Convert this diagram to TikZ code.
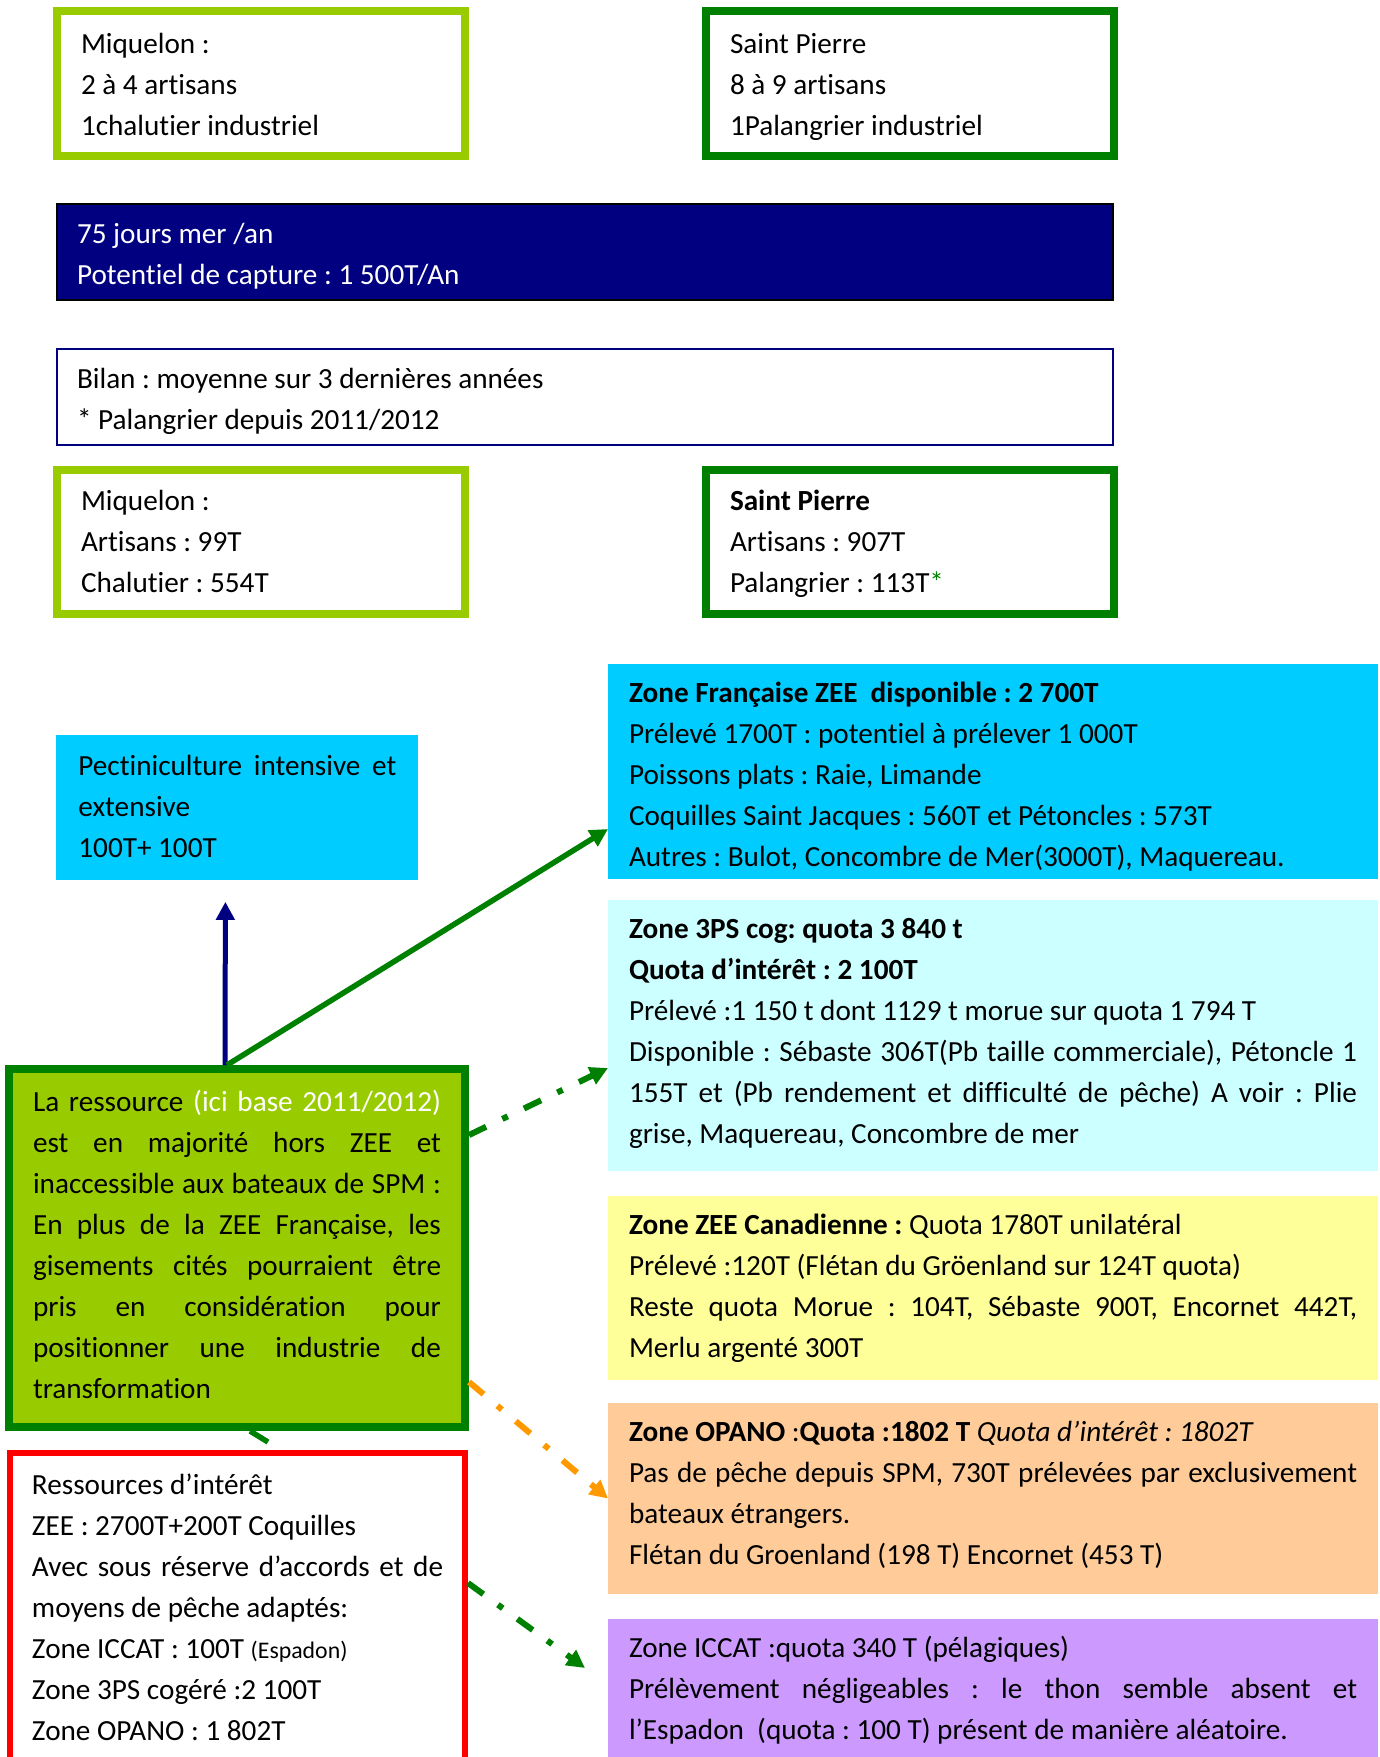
\documentclass[tikz,border=0pt]{standalone}
\usepackage{fontspec}
\setmainfont{Carlito}[Ligatures=NoCommon]
\usepackage{tikz}
\usetikzlibrary{positioning}
\usetikzlibrary{arrows.meta}

\definecolor{vertclair}{HTML}{99CC00}
\definecolor{vertfonce}{HTML}{008000}
\definecolor{marine}{HTML}{000080}
\definecolor{cyanzone}{HTML}{00CCFF}
\definecolor{cyanpale}{HTML}{CCFFFF}
\definecolor{jaunezone}{HTML}{FFFF99}
\definecolor{peche}{HTML}{FFCC99}
\definecolor{lavande}{HTML}{CC99FF}
\definecolor{orangefl}{HTML}{FF9900}
\definecolor{rouge}{HTML}{FF0000}

\newcommand{\corps}{\fontsize{14.6pt}{20.5pt}\selectfont\frenchspacing}
\newcommand{\petit}{\fontsize{11.9pt}{20.5pt}\selectfont}
\hyphenpenalty=10000
\exhyphenpenalty=10000
\tolerance=10000

\tikzset{
    cadre/.style={ % boxes of the two fleets
        draw, line width=4pt, anchor=north west,
        minimum width=204pt, inner xsep=12pt, inner ysep=0pt,
        text width=180pt, text height=21pt, text depth=51.5pt,
        align=justify, font=\corps
    },
    miq/.style={cadre, draw=vertclair},
    stp/.style={cadre, draw=vertfonce},
    bilanbox/.style={text height=20pt, text depth=52pt}, % lower row
    bandeau/.style={ % wide boxes in the middle
        draw, line width=1pt, anchor=north west,
        minimum width=528pt, inner xsep=10pt, inner ysep=0pt,
        text width=508pt, text height=19.5pt, text depth=28.5pt,
        align=justify, font=\corps
    },
    zone/.style={ % the fishing zones on the right
        anchor=north west, outer sep=0pt,
        minimum width=385pt, inner xsep=10.5pt, inner ysep=0pt,
        text width=364pt, text height=19pt, align=justify, font=\corps
    },
    fleche/.style={ % solid arrows
        -{Triangle[length=9pt,width=9pt]}, line width=2.5pt
    },
    pointille/.style={ % dash-dot arrows
        fleche, line width=3pt,
        dash pattern=on 9.5pt off 9pt on 3pt off 9pt
    }
}

\begin{document}
\begin{tikzpicture}[x=0.5pt,y=-0.5pt]
    \useasboundingbox (0,0) rectangle (1380,1757);

    % fleets
    \node[miq] (mqA) at (53,7) {Miquelon :\\2 à 4 artisans\\1chalutier industriel};
    \node[stp, right=116.5pt of mqA] (spA) {Saint Pierre\\8 à 9 artisans\\1Palangrier industriel};

    \node[bandeau, fill=marine, draw=black, text=white] (jours) at (56,203)
        {75 jours mer /an\\Potentiel de capture : 1 500T/An};
    \node[bandeau, draw=marine] (bilan) at (56,348)
        {Bilan : moyenne sur 3 dernières années\\{}* Palangrier depuis 2011/2012};

    \node[miq, bilanbox] (mqB) at (53,466) {Miquelon :\\Artisans : 99T\\Chalutier : 554T};
    \node[stp, bilanbox, right=116.5pt of mqB] (spB)
        {\textbf{Saint Pierre}\\Artisans : 907T\\Palangrier : 113T{\color{vertfonce}*}};

    % left column
    \node[anchor=north west, fill=cyanzone, minimum width=181pt, inner xsep=11pt, inner ysep=0pt,
          text width=159pt, text height=20pt, text depth=52.5pt, align=justify, font=\corps]
        (pect) at (56,735) {Pectiniculture intensive et\linebreak extensive\\100T+ 100T};

    \node[anchor=north west, draw=vertfonce, line width=4pt, fill=vertclair,
          minimum width=228pt, inner xsep=12pt, inner ysep=0pt,
          text width=204pt, text height=21pt, text depth=158pt,
          align=justify, font=\corps] (res) at (5,1065)
        {La ressource {\color{white}(ici base 2011/2012)}\linebreak
         est en majorité hors ZEE et\linebreak
         inaccessible aux bateaux de SPM :\linebreak
         En plus de la ZEE Française, les\linebreak
         gisements cités pourraient être\linebreak
         pris en considération pour\linebreak
         positionner une industrie de\linebreak
         transformation};

    \node[anchor=north west, draw=rouge, line width=3pt, fill=white,
          minimum width=227.5pt, inner xsep=11pt, inner ysep=0pt,
          text width=205.5pt, text height=20.5pt, text depth=133.5pt,
          align=justify, font=\corps] (interet) at (7,1450)
        {Ressources d’intérêt\\
         ZEE : 2700T+200T Coquilles\\
         Avec sous réserve d’accords et de\linebreak
         moyens de pêche adaptés:\\
         Zone ICCAT : 100T {\petit (Espadon)}\\
         Zone 3PS cogéré :2 100T\\
         Zone OPANO : 1 802T};

    % zones
    \node[zone, fill=cyanzone, text depth=88.5pt] (fr) at (608,664)
        {\textbf{Zone Française ZEE\ \ disponible : 2 700T}\\
         Prélevé 1700T : potentiel à prélever 1 000T\\
         Poissons plats : Raie, Limande\\
         Coquilles Saint Jacques : 560T et Pétoncles : 573T\\
         Autres : Bulot, Concombre de Mer(3000T), Maquereau.};
    \node[zone, fill=cyanpale, text depth=116.5pt, below=10.5pt of fr] (tps)
        {\textbf{Zone 3PS cog: quota 3 840 t}\\
         \textbf{Quota d’intérêt : 2 100T}\\
         Prélevé :1 150 t dont 1129 t morue sur quota 1 794 T\\
         Disponible : Sébaste 306T(Pb taille commerciale), Pétoncle 1\linebreak
         155T et (Pb rendement et difficulté de pêche) A voir : Plie\linebreak
         grise, Maquereau, Concombre de mer};
    \node[zone, fill=jaunezone, text depth=73pt, below=12.5pt of tps] (can)
        {\textbf{Zone ZEE Canadienne :} Quota 1780T unilatéral\\
         Prélevé :120T (Flétan du Gröenland sur 124T quota)\\
         Reste quota Morue : 104T, Sébaste 900T, Encornet 442T,\linebreak
         Merlu argenté 300T};
    \node[zone, fill=peche, text depth=76.5pt, below=11.5pt of can] (opano)
        {\textbf{Zone OPANO} :\textbf{Quota :1802 T} \textit{Quota d’intérêt : 1802T}\\
         Pas de pêche depuis SPM, 730T prélevées par exclusivement\linebreak
         bateaux étrangers.\\
         Flétan du Groenland (198 T) Encornet (453 T)};
    \node[zone, fill=lavande, text depth=52.5pt, below=12.5pt of opano] (iccat)
        {Zone ICCAT :quota 340 T (pélagiques)\\
         Prélèvement négligeables : le thon semble absent et\linebreak
         l’Espadon\ \ (quota : 100 T) présent de manière aléatoire.};

    % arrows
    \draw[fleche, marine] ([xshift=-6pt]res.north) -- ([xshift=-6pt,yshift=-10.5pt]pect.south);
    \draw[fleche, vertfonce, line width=2.75pt] ([xshift=-5pt]res.north) -- ([yshift=-28.75pt]fr.west);
    \draw[pointille, vertfonce] ([yshift=56.5pt]res.east) -- ([yshift=-16.25pt]tps.west);
    \draw[pointille, orangefl] ([yshift=-67pt]res.east) -- (opano.west);
    \draw[pointille, vertfonce] ([yshift=12pt]interet.east) -- ([shift={(-11.5pt,11.25pt)}]iccat.west);
    \draw[vertfonce, line width=2.75pt] ([xshift=6.5pt]res.south) -- ([shift={(15.25pt,4pt)}]interet.north);
\end{tikzpicture}
\end{document}
